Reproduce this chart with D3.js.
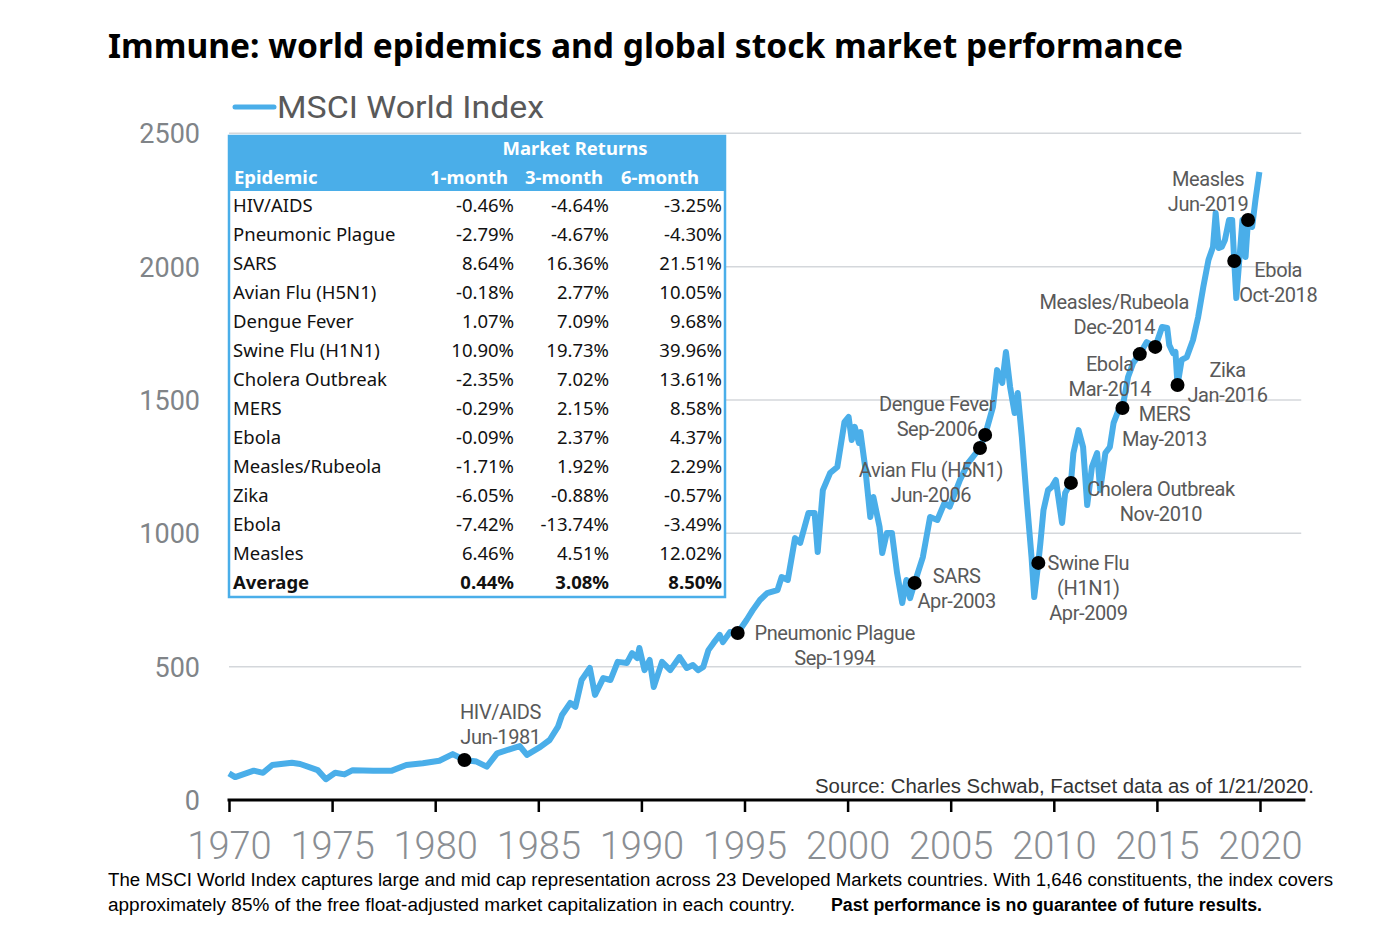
<!DOCTYPE html>
<html><head><meta charset="utf-8">
<script src="https://cdn.jsdelivr.net/npm/d3@7"></script>
<style>
body{margin:0;background:#fff;}
svg{display:block;}
</style></head>
<body><svg id="c" width="1378" height="932"></svg>
<script>
// ---------- DATA ----------
const years = [1970.0,1970.3,1971.2,1971.65,1972.1,1973.05,1973.45,1974.3,1974.7,1975.15,1975.6,1976.0,1977.0,1977.9,1978.6,1979.4,1980.2,1980.85,1981.42,1982.0,1982.5,1983.0,1983.6,1984.1,1984.45,1985.1,1985.55,1985.95,1986.15,1986.55,1986.8,1987.1,1987.5,1987.75,1988.15,1988.5,1988.85,1989.3,1989.55,1989.8,1989.9,1990.15,1990.4,1990.6,1991.0,1991.4,1991.85,1992.2,1992.5,1992.75,1993.0,1993.25,1993.5,1993.8,1993.95,1994.3,1994.67,1995.1,1995.4,1995.75,1996.1,1996.6,1996.8,1997.1,1997.45,1997.7,1998.1,1998.4,1998.55,1998.8,1999.15,1999.5,1999.85,2000.05,2000.2,2000.35,2000.55,2000.62,2000.85,2001.1,2001.25,2001.55,2001.68,2001.9,2002.15,2002.4,2002.65,2002.85,2003.03,2003.25,2003.65,2004.0,2004.35,2004.7,2004.95,2005.45,2005.85,2006.42,2006.67,2007.05,2007.25,2007.5,2007.68,2007.88,2008.1,2008.25,2008.45,2008.7,2008.92,2009.05,2009.25,2009.35,2009.5,2009.72,2009.9,2010.1,2010.4,2010.55,2010.83,2010.95,2011.2,2011.42,2011.62,2011.85,2012.1,2012.25,2012.5,2012.72,2012.9,2013.2,2013.33,2013.6,2013.85,2014.17,2014.5,2014.92,2015.25,2015.5,2015.6,2015.78,2015.9,2016.0,2016.2,2016.45,2016.75,2017.0,2017.25,2017.5,2017.72,2017.85,2018.0,2018.15,2018.3,2018.5,2018.65,2018.75,2018.85,2018.97,2019.15,2019.3,2019.42,2019.62,2019.78,2019.97];
const msciValues = [100,86,110,102,131,140,135,112,78,102,96,112,110,110,131,138,147,172,150,144,125,175,190,202,169,199,225,274,319,364,349,450,495,394,457,450,518,514,551,532,570,487,525,424,518,487,536,495,506,487,499,562,589,619,592,630,626,675,712,750,776,787,836,825,982,964,1076,1076,930,1162,1226,1249,1418,1436,1350,1399,1339,1380,1249,1061,1136,1024,926,1001,1001,851,739,825,757,814,911,1061,1050,1114,1100,1200,1264,1320,1369,1474,1612,1564,1680,1549,1451,1526,1361,1114,911,761,889,964,1087,1162,1174,1200,1039,1151,1189,1301,1387,1324,1106,1249,1301,1162,1301,1324,1414,1474,1470,1586,1639,1672,1717,1699,1774,1770,1706,1676,1680,1556,1650,1661,1725,1811,1924,2025,2074,2201,2070,2075,2100,2175,2175,2021,1882,1999,2175,2036,2175,2149,2250,2355];

// epidemic events
const eventNames = ["HIV/AIDS","Pneumonic Plague","SARS","Avian Flu (H5N1)","Dengue Fever","Swine Flu|(H1N1)","Cholera Outbreak","MERS","Ebola","Measles/Rubeola","Zika","Ebola","Measles"];
const eventDates = ["Jun-1981","Sep-1994","Apr-2003","Jun-2006","Sep-2006","Apr-2009","Nov-2010","May-2013","Mar-2014","Dec-2014","Jan-2016","Oct-2018","Jun-2019"];
const eventYears = [1981.42,1994.67,2003.25,2006.42,2006.67,2009.25,2010.83,2013.33,2014.17,2014.92,2016.0,2018.75,2019.42];
const eventValues = [150,626,814,1320,1369,889,1189,1470,1672,1699,1556,2021,2175];

// table
const tableEpidemics = ["HIV/AIDS","Pneumonic Plague","SARS","Avian Flu (H5N1)","Dengue Fever","Swine Flu (H1N1)","Cholera Outbreak","MERS","Ebola","Measles/Rubeola","Zika","Ebola","Measles","Average"];
const ret1m = ["-0.46%","-2.79%","8.64%","-0.18%","1.07%","10.90%","-2.35%","-0.29%","-0.09%","-1.71%","-6.05%","-7.42%","6.46%","0.44%"];
const ret3m = ["-4.64%","-4.67%","16.36%","2.77%","7.09%","19.73%","7.02%","2.15%","2.37%","1.92%","-0.88%","-13.74%","4.51%","3.08%"];
const ret6m = ["-3.25%","-4.30%","21.51%","10.05%","9.68%","39.96%","13.61%","8.58%","4.37%","2.29%","-0.57%","-3.49%","12.02%","8.50%"];
const tableHeaders = ["Epidemic","1-month","3-month","6-month"];

const yTicks = [0,500,1000,1500,2000,2500];
const xTicks = [1970,1975,1980,1985,1990,1995,2000,2005,2010,2015,2020];

// ---------- LAYOUT (pixel offsets of annotation labels from their dots) ----------
const labelOffsets = [[36,-48],[97,0],[42,-7],[-49,22],[-48,-31],[50,0],[90,6],[42,6],[-30,10],[-41,-45],[50,-15],[44,9],[-40,-41]];

const BLUE = "#4aaee9";
const svg = d3.select("#c");
const x = d3.scaleLinear().domain([1970,2020]).range([229,1260]);
const y = d3.scaleLinear().domain([0,2500]).range([800,133.3]);

// title
svg.append("text").attr("x",108).attr("y",58)
  .attr("font-family","Noto Sans").attr("font-weight","bold").attr("font-size",34)
  .attr("textLength",1075).attr("lengthAdjust","spacingAndGlyphs").attr("fill","#000")
  .text("Immune: world epidemics and global stock market performance");

// legend
svg.append("line").attr("x1",235).attr("x2",274).attr("y1",107).attr("y2",107)
  .attr("stroke",BLUE).attr("stroke-width",5).attr("stroke-linecap","round");
svg.append("text").attr("x",277).attr("y",118).attr("font-family","Roboto").attr("font-size",31)
  .attr("fill","#595959").attr("textLength",267).attr("lengthAdjust","spacingAndGlyphs").text("MSCI World Index");

// gridlines
svg.append("g").selectAll("line").data(yTicks.filter(d=>d>0)).join("line")
  .attr("x1",x(1970)).attr("x2",x(2022)).attr("y1",d=>y(d)).attr("y2",d=>y(d))
  .attr("stroke","#d4d7db").attr("stroke-width",1.5);

// y labels
svg.append("g").selectAll("text").data(yTicks).join("text")
  .attr("x",200).attr("y",d=>y(d)+10).attr("text-anchor","end")
  .attr("font-family","Roboto").attr("font-size",27).attr("fill","#808488").text(d=>d);

// x axis
const xAxis = d3.axisBottom(x).tickValues(xTicks).tickFormat(d3.format("d")).tickSize(12).tickPadding(20);
const gx = svg.append("g").attr("transform","translate(0,800)").call(xAxis);
gx.select(".domain").remove();
gx.selectAll(".tick line").attr("stroke","#000").attr("stroke-width",2.5);
gx.selectAll(".tick text").attr("font-family","Roboto").attr("font-size",38).attr("fill","#8a8e93").attr("font-weight",300);
svg.append("line").attr("x1",x(1970)-1.5).attr("x2",x(2022.2)).attr("y1",800).attr("y2",800)
  .attr("stroke","#000").attr("stroke-width",3);

// source
svg.append("text").attr("x",1314).attr("y",793).attr("text-anchor","end")
  .attr("font-family","Liberation Sans").attr("font-size",20).attr("fill","#333")
  .attr("textLength",499).attr("lengthAdjust","spacingAndGlyphs")
  .text("Source: Charles Schwab, Factset data as of 1/21/2020.");

// line
const pts = years.map((d,i)=>[d,msciValues[i]]);
svg.append("path").datum(pts)
  .attr("d",d3.line().x(d=>x(d[0])).y(d=>y(d[1])))
  .attr("fill","none").attr("stroke",BLUE).attr("stroke-width",6).attr("stroke-linejoin","round");

// table
const tx0=229, tx1=725, ty0=136, hdrH=55, rowH=29;
const tg = svg.append("g");
tg.append("rect").attr("x",tx0).attr("y",ty0).attr("width",tx1-tx0).attr("height",461)
  .attr("fill","#fff").attr("stroke",BLUE).attr("stroke-width",2.5);
tg.append("rect").attr("x",tx0).attr("y",ty0).attr("width",tx1-tx0).attr("height",hdrH).attr("fill",BLUE);
const tfont = "Noto Sans";
tg.append("text").attr("x",575).attr("y",155).attr("text-anchor","middle").attr("font-family",tfont)
  .attr("font-weight","bold").attr("font-size",18.5).attr("fill","#fff").text("Market Returns");
const hdrX = [234,469,564,660], hdrAnchor=["start","middle","middle","middle"];
tg.selectAll("text.h").data(tableHeaders).join("text").attr("class","h")
  .attr("x",(d,i)=>hdrX[i]).attr("y",184).attr("text-anchor",(d,i)=>hdrAnchor[i])
  .attr("font-family",tfont).attr("font-weight","bold").attr("font-size",18.5).attr("fill","#fff").text(d=>d);
const cols = [ret1m,ret3m,ret6m], colRight=[514,609,722];
tableEpidemics.forEach((name,i)=>{
  const yy = 212 + i*rowH;
  const bold = name==="Average";
  tg.append("text").attr("x",233).attr("y",yy).attr("font-family",tfont).attr("font-size",18.5)
    .attr("font-weight",bold?"bold":"normal").attr("fill","#111").text(name);
  cols.forEach((c,j)=>{
    tg.append("text").attr("x",colRight[j]).attr("y",yy).attr("text-anchor","end").attr("font-family",tfont)
      .attr("font-size",18.5).attr("font-weight",bold?"bold":"normal").attr("fill","#111").text(c[i]);
  });
});

// event dots and labels
const eg = svg.append("g");
eventYears.forEach((yr,i)=>{
  const cx = x(yr), cy = y(eventValues[i]);
  eg.append("circle").attr("cx",cx).attr("cy",cy).attr("r",7).attr("fill","#000");
});
eventYears.forEach((yr,i)=>{
  const cx = x(yr), cy = y(eventValues[i]);
  const lines = eventNames[i].split("|").concat([eventDates[i]]);
  const [dx,dy] = labelOffsets[i];
  const t = eg.append("text").attr("text-anchor","middle").attr("font-family","Roboto")
    .attr("font-size",20).attr("fill","#595959").attr("letter-spacing",-0.4);
  lines.forEach((l,k)=>{
    t.append("tspan").attr("x",cx+dx).attr("y",cy+dy+7+k*25).text(l);
  });
});

// footer
const foot = svg.append("g").attr("font-family","Liberation Sans").attr("font-size",18).attr("fill","#000");
foot.append("text").attr("x",108).attr("y",886).attr("textLength",1225).attr("lengthAdjust","spacingAndGlyphs")
  .text("The MSCI  World Index captures large and mid cap representation across 23 Developed Markets countries. With 1,646 constituents, the index covers");
foot.append("text").attr("x",108).attr("y",911).attr("textLength",687).attr("lengthAdjust","spacingAndGlyphs")
  .text("approximately 85% of the free float-adjusted market capitalization in each country.");
foot.append("text").attr("x",831).attr("y",911).attr("font-weight","bold").attr("textLength",431).attr("lengthAdjust","spacingAndGlyphs")
  .text("Past performance is no guarantee of future results.");
</script></body></html>
